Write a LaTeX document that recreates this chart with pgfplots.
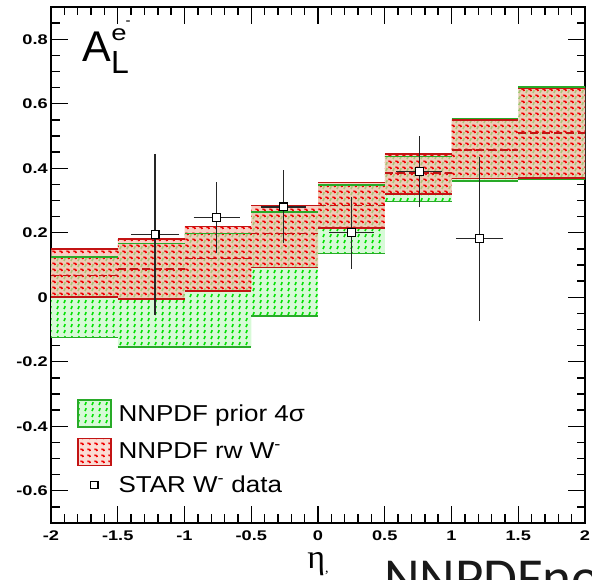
\documentclass[border=0pt]{standalone}
\usepackage{pgfplots}
\usepackage{pgfplotstable}
\pgfplotsset{compat=1.18}
\usepgfplotslibrary{fillbetween}
\usetikzlibrary{patterns}
\usepackage{fontspec}
\setmainfont{Liberation Sans}
\newfontfamily\tickfont{Liberation Sans}
\newfontfamily\legfont[FakeStretch=1.13]{Liberation Sans}
\newfontfamily\calfont{Carlito}
\newfontfamily\serfont{Liberation Serif}

\definecolor{gfill}{RGB}{215,250,215}
\definecolor{gdash}{RGB}{0,225,0}
\definecolor{gline}{RGB}{40,170,40}
\definecolor{rfill}{RGB}{245,185,170}
\definecolor{rdash}{RGB}{240,0,0}
\definecolor{rline}{RGB}{195,20,20}

\pgfdeclarepatternformonly{greendash}{\pgfqpoint{-1pt}{-1pt}}{\pgfqpoint{8pt}{7pt}}{\pgfqpoint{7pt}{6pt}}{%
  \pgfsetlinewidth{1.6pt}%
  \pgfpathmoveto{\pgfqpoint{1pt}{1pt}}%
  \pgfpathlineto{\pgfqpoint{2.2pt}{3.8pt}}%
  \pgfusepath{stroke}%
}
\pgfdeclarepatternformonly{reddash}{\pgfqpoint{-1pt}{-1pt}}{\pgfqpoint{8pt}{7pt}}{\pgfqpoint{7pt}{6pt}}{%
  \pgfsetlinewidth{1.6pt}%
  \pgfpathmoveto{\pgfqpoint{3.4pt}{4.8pt}}%
  \pgfpathlineto{\pgfqpoint{5.6pt}{4.4pt}}%
  \pgfpathlineto{\pgfqpoint{6.2pt}{3.0pt}}%
  \pgfusepath{stroke}%
}

\pgfplotstableread{
x    ghi    glo     rhi    rlo    rc
-2   0.125  -0.125  0.150  0.000  0.068
-1.5 0.166  -0.155  0.180  -0.005 0.088
-1   0.198  -0.154  0.220  0.019  0.120
-0.5 0.265  -0.058  0.284  0.093  0.198
0    0.348  0.136   0.356  0.215  0.285
0.5  0.437  0.297   0.444  0.320  0.385
1    0.553  0.360   0.549  0.368  0.456
1.5  0.652  0.365   0.648  0.370  0.509
2    0.652  0.365   0.648  0.370  0.509
}\bands

\pgfplotstableread{
x     y     ex    ey
-1.22 0.195 0.160 0.240
-0.76 0.247 0.150 0.101
-0.26 0.280 0.147 0.104
0.25  0.200 0.146 0.102
0.76  0.390 0.150 0.100
1.21  0.182 0.155 0.245
}\pts

\begin{document}
\begin{tikzpicture}
\begin{axis}[
  at={(51pt,57pt)}, anchor=south west,
  scale only axis, width=534pt, height=516pt,
  xmin=-2, xmax=2, ymin=-0.7, ymax=0.9,
  xtick={-2,-1.5,-1,-0.5,0,0.5,1,1.5,2},
  ytick={-0.6,-0.4,-0.2,0,0.2,0.4,0.6,0.8},
  minor xtick={-2,-1.9,...,2},
  minor ytick={-0.7,-0.65,...,0.9},
  major tick length=17pt, minor tick length=8.5pt,
  tick align=inside,
  every tick/.style={black, line width=1.4pt},
  axis line style={line width=1.6pt},
  /pgf/number format/assume math mode=true,
  /pgf/number format/fixed,
  tick label style={font=\tickfont\bfseries\fontsize{14}{14}\selectfont, xscale=1.3},
  xticklabel style={yshift=-4pt},
  yticklabel style={xshift=1pt},
  xlabel={\serfont\fontsize{34}{34}\selectfont η\raisebox{-4pt}{\fontsize{14}{14}\selectfont ,}},
  xlabel style={at={(axis description cs:0.5,0)}, anchor=base, yshift=-46pt, inner sep=0pt},
  legend cell align=left,
  legend style={at={(axis cs:-1.805,-0.316)}, anchor=north west, draw=none, fill=none,
    inner sep=0pt, row sep=10pt, font=\legfont\fontsize{23}{23}\selectfont,
    nodes={inner sep=0pt},
    /tikz/every odd column/.style={column sep=7pt}},
]
% green prior band
\addplot[draw=none, const plot, name path=gh, forget plot] table[x=x,y=ghi]{\bands};
\addplot[draw=none, const plot, name path=gl, forget plot] table[x=x,y=glo]{\bands};
\addplot[fill=gfill, draw=none, forget plot] fill between[of=gh and gl];
\addplot[pattern=greendash, pattern color=gdash, draw=none, forget plot] fill between[of=gh and gl];
% red reweighted band
\addplot[draw=none, const plot, name path=rh, forget plot] table[x=x,y=rhi]{\bands};
\addplot[draw=none, const plot, name path=rl, forget plot] table[x=x,y=rlo]{\bands};
\addplot[fill=rfill, fill opacity=0.7, draw=none, forget plot] fill between[of=rh and rl];
\addplot[pattern=reddash, pattern color=rdash, draw=none, forget plot] fill between[of=rh and rl];
% boundary lines
\addplot[jump mark left, gline, line width=1.5pt, forget plot] table[x=x,y=ghi]{\bands};
\addplot[jump mark left, gline, line width=1.5pt, forget plot] table[x=x,y=glo]{\bands};
\addplot[jump mark left, rline, line width=1.5pt, forget plot] table[x=x,y=rhi]{\bands};
\addplot[jump mark left, rline, line width=1.5pt, forget plot] table[x=x,y=rlo]{\bands};
\addplot[jump mark left, rline, line width=1.5pt, dash pattern=on 8pt off 4pt, forget plot] table[x=x,y=rc]{\bands};
% data
\addplot[only marks, mark=square*, mark size=3.9pt,
  mark options={fill=white, draw=black, line width=1.3pt}, black, forget plot,
  error bars/.cd, x dir=both, x explicit, y dir=both, y explicit,
  error bar style={line width=1.5pt, black!85},
  error mark options={mark size=3pt, line width=1.5pt, black!85}]
  table[x=x, y=y, x error=ex, y error=ey]{\pts};
% legend
\addlegendimage{legend image code/.code={
  \fill[gfill] (0pt,-13.5pt) rectangle (33pt,13.5pt);
  \fill[pattern=greendash, pattern color=gdash] (0pt,-13.5pt) rectangle (33pt,13.5pt);
  \draw[gline, line width=1.3pt] (0pt,-13.5pt) rectangle (33pt,13.5pt);}}
\addlegendentry{NNPDF prior 4σ}
\addlegendimage{legend image code/.code={
  \fill[rfill!50!white] (0pt,-13.5pt) rectangle (33pt,13.5pt);
  \fill[pattern=reddash, pattern color=rdash] (0pt,-13.5pt) rectangle (33pt,13.5pt);
  \draw[rline, line width=1.3pt] (0pt,-13.5pt) rectangle (33pt,13.5pt);}}
\addlegendentry{NNPDF rw W\textsuperscript{-}}
\addlegendimage{legend image code/.code={
  \draw[black, line width=1.2pt, fill=white] (12.8pt,-3.6pt) rectangle (20.2pt,3.6pt);}}
\addlegendentry{STAR W\textsuperscript{-} data}
\end{axis}
% A_L^{e-} label
\node[anchor=base west, inner sep=0pt] at (82pt,518.3pt) {\fontsize{43}{43}\selectfont A};
\node[anchor=base west, inner sep=0pt] at (111pt,506.7pt) {\fontsize{32}{32}\selectfont L};
\node[anchor=base west, inner sep=0pt, xscale=1.25] at (111pt,539.3pt) {\fontsize{22}{22}\selectfont e};
\node[anchor=base west, inner sep=0pt] at (125.5pt,554.5pt) {\fontsize{15}{15}\selectfont -};
% cut-off slide text
\node[anchor=base west, inner sep=0pt, text=black!90] at (384pt,-17pt) {\calfont\fontsize{55}{55}\selectfont NNPDFno};
\pgfresetboundingbox
\useasboundingbox (0pt,0pt) rectangle (592pt,580pt);
\end{tikzpicture}
\end{document}
